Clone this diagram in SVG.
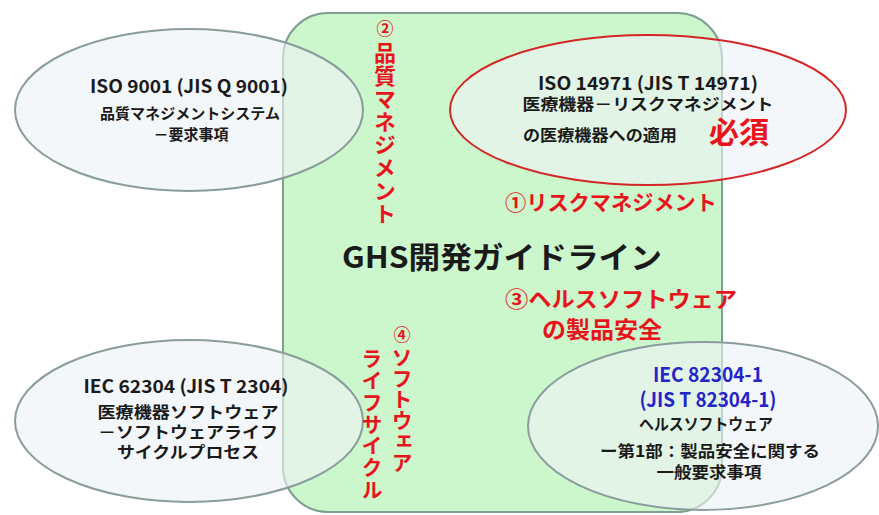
<svg xmlns="http://www.w3.org/2000/svg" width="879" height="515" viewBox="0 0 879 515">
<style>
text{font-family:"Noto Sans CJK JP","Noto Sans",sans-serif;font-weight:bold;text-anchor:middle;fill:#1a1a1a}
.r{fill:#e8141c}
.b{fill:#2424c8}
.v{writing-mode:vertical-rl;text-anchor:start}
.ell{fill:#eef2f5;fill-opacity:0.62;stroke:#8a9c9c;stroke-width:2}
.red{stroke:#d42626}
</style>
<rect width="879" height="515" fill="#ffffff"/>
<g id="ghs">
<rect x="283" y="13" width="439" height="499" rx="45" fill="#ccf6cc" stroke="#7f9f90" stroke-width="2"/>
</g>
<g id="iso9001">
<ellipse class="ell" cx="189" cy="110" rx="174" ry="81"/>
<text x="189" y="93" font-size="18" textLength="198" lengthAdjust="spacingAndGlyphs">ISO 9001 (JIS Q 9001)</text>
<text x="190" y="119" font-size="15" textLength="180" lengthAdjust="spacingAndGlyphs">品質マネジメントシステム</text>
<text x="191" y="140" font-size="15">－要求事項</text>
</g>
<g id="iso14971">
<ellipse class="ell red" cx="648" cy="110" rx="198" ry="75"/>
<text x="648" y="90" font-size="18" textLength="220" lengthAdjust="spacingAndGlyphs">ISO 14971 (JIS T 14971)</text>
<text x="648" y="110" font-size="16" textLength="251" lengthAdjust="spacingAndGlyphs">医療機器－リスクマネジメント</text>
<text x="600" y="141" font-size="16" textLength="154" lengthAdjust="spacingAndGlyphs">の医療機器への適用</text>
<text class="r" x="739" y="143" font-size="30">必須</text>
</g>
<g id="iec62304">
<ellipse class="ell" cx="189" cy="421" rx="174" ry="81"/>
<text x="186" y="393" font-size="18" textLength="205" lengthAdjust="spacingAndGlyphs">IEC 62304 (JIS T 2304)</text>
<text x="188" y="418" font-size="16" textLength="181" lengthAdjust="spacingAndGlyphs">医療機器ソフトウェア</text>
<text x="188" y="438" font-size="16" textLength="180" lengthAdjust="spacingAndGlyphs">－ソフトウェアライフ</text>
<text x="188" y="458" font-size="16" textLength="142" lengthAdjust="spacingAndGlyphs">サイクルプロセス</text>
</g>
<g id="iec82304">
<ellipse class="ell" cx="703" cy="426" rx="175" ry="84"/>
<text class="b" x="708" y="382" font-size="20" textLength="110" lengthAdjust="spacingAndGlyphs">IEC 82304-1</text>
<text class="b" x="708" y="407" font-size="20" textLength="137" lengthAdjust="spacingAndGlyphs">(JIS T 82304-1)</text>
<text x="706" y="430" font-size="16" textLength="134" lengthAdjust="spacingAndGlyphs">ヘルスソフトウェア</text>
<text x="710" y="457" font-size="16" textLength="220" lengthAdjust="spacingAndGlyphs">ー第1部：製品安全に関する</text>
<text x="709" y="478" font-size="16" textLength="105" lengthAdjust="spacingAndGlyphs">一般要求事項</text>
</g>
<g id="labels">
<text x="502" y="268" font-size="30" textLength="320" lengthAdjust="spacingAndGlyphs">GHS開発ガイドライン</text>
<text class="r" x="611" y="210" font-size="21" textLength="212" lengthAdjust="spacingAndGlyphs">①リスクマネジメント</text>
<text class="r" x="621" y="307" font-size="22" textLength="232" lengthAdjust="spacingAndGlyphs">③ヘルスソフトウェア</text>
<text class="r" x="602" y="338" font-size="23" textLength="120" lengthAdjust="spacingAndGlyphs">の製品安全</text>
<text class="r" x="385" y="35" font-size="17">②</text>
<text class="r v" x="385" y="42" font-size="22" letter-spacing="1">品質マネジメント</text>
<text class="r" x="402" y="341" font-size="17">④</text>
<text class="r v" x="402" y="347" font-size="21">ソフトウェア</text>
<text class="r v" x="372" y="348" font-size="21" letter-spacing="0.7">ライフサイクル</text>
</g>
</svg>
